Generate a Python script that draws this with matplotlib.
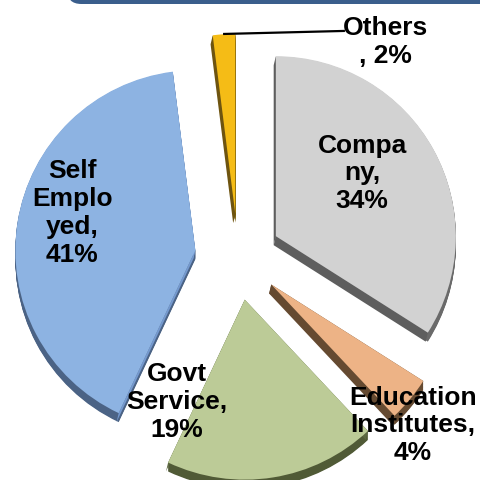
import numpy as np
import matplotlib.pyplot as plt
from matplotlib.patches import FancyBboxPatch, Polygon

plt.rcParams['font.family'] = ['Liberation Sans', 'DejaVu Sans']

labels = ['Compa\nny,\n34%', 'Education\nInstitutes,\n4%', 'Govt\nService,\n19%',
          'Self\nEmplo\nyed,\n41%', 'Others\n, 2%']
shares = [34, 4, 19, 41, 2]
top_colors = ['#D2D2D2', '#EDB386', '#BCCB97', '#8DB3E2', '#F5BC16']
rim_colors = ['#6A6A6A', '#654A31', '#505A36', '#4B6385', '#7A5E08']
face_colors = ['#5E5E5E', '#654A31', '#5C6840', '#7499CF', '#6E5410']

# label centres in data units (pie radius = 1)
label_pos = [(0.69, 0.47), (0.97, -0.93), (-0.34, -0.80), (-0.92, 0.25), (0.82, 1.20)]

explode = [0.24] * len(shares)
depth = 0.05

fig = plt.figure(figsize=(4.81, 4.81), dpi=100)
ax = fig.add_axes([0, 0, 1, 1])

# top faces
wedges, _ = ax.pie(shares, colors=top_colors, startangle=90, counterclock=False,
                   explode=explode, center=(0, 0), radius=1,
                   wedgeprops=dict(linewidth=0, zorder=3))

# outer rim: stacked copies shifted downwards
for k in np.linspace(depth, 0.004, 12):
    side, _ = ax.pie(shares, colors=rim_colors, startangle=90, counterclock=False,
                     explode=explode, center=(0, -k), radius=1,
                     wedgeprops=dict(linewidth=0))
    for w in side:
        w.set_zorder(1)

# cut faces along the radial edges
for w, fc in zip(wedges, face_colors):
    cx, cy = w.center
    for th in (w.theta1, w.theta2):
        ex = cx + w.r * np.cos(np.radians(th))
        ey = cy + w.r * np.sin(np.radians(th))
        ax.add_patch(Polygon([(cx, cy), (ex, ey), (ex - 0.012, ey - depth),
                              (cx - 0.012, cy - depth)],
                             closed=True, facecolor=fc, edgecolor='none', zorder=2))

for lab, (x, y) in zip(labels, label_pos):
    ax.text(x, y, lab, ha='center', va='center', fontsize=19,
            fontweight='bold', color='black', linespacing=1.2, zorder=5)

# leader line for the small slice
ax.plot([-0.083, 0.594], [1.239, 1.256], color='black', lw=1.6,
        solid_capstyle='butt', zorder=4)

ax.set_xlim(-238 / 180, 243 / 180)
ax.set_ylim(-223 / 180, 258 / 180)
ax.set_aspect('auto')
ax.axis('off')

# header band across the top
band = FancyBboxPatch((67 / 481, 1 - 5 / 481), 1.2, 0.2,
                      boxstyle='round,pad=0,rounding_size=0.03',
                      transform=fig.transFigure, facecolor='#3A5E8C',
                      edgecolor='none', clip_on=False)
fig.patches.append(band)

fig.savefig('out.png', dpi=100)
